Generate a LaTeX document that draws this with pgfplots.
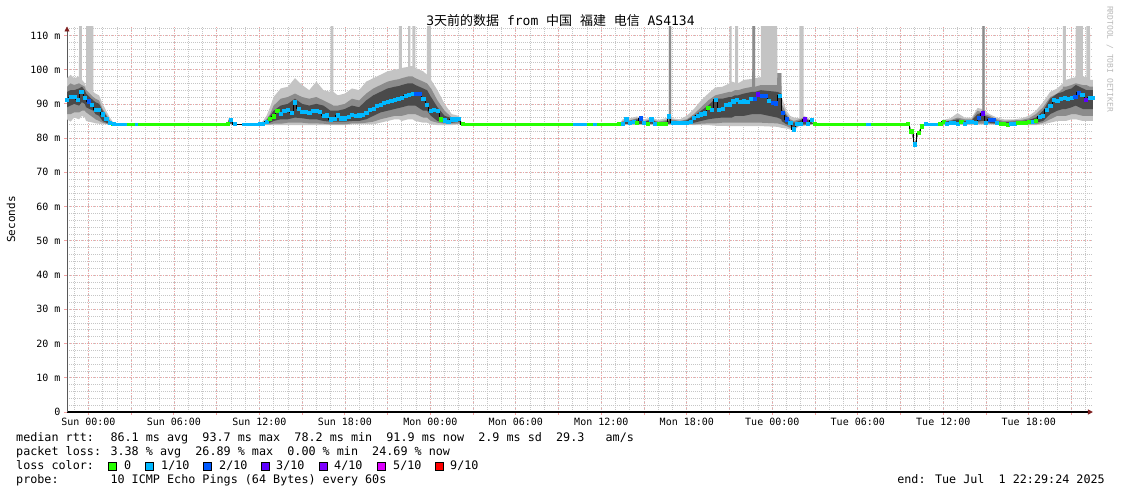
\documentclass[border=0pt]{standalone}
\usepackage{fontspec}
\usepackage{pgfplots}
\usepackage{pgfplotstable}
\pgfplotsset{compat=1.18}
\usepgfplotslibrary{fillbetween}
\usetikzlibrary{arrows.meta}
\newfontfamily\rrd{DejaVu Sans Mono}
\newfontfamily\cjk{Noto Sans CJK SC}
\definecolor{loss0}{HTML}{26FF00}
\definecolor{loss1}{HTML}{00B8FF}
\definecolor{loss2}{HTML}{0059FF}
\definecolor{loss3}{HTML}{5E00FF}
\definecolor{loss4}{HTML}{7E00FF}
\definecolor{loss5}{HTML}{DD00FF}
\definecolor{loss9}{HTML}{FF0000}
\definecolor{smokeL}{HTML}{C4C4C4}
\definecolor{smokeM}{HTML}{8C8C8C}
\definecolor{smokeD}{HTML}{4A4A4A}
\definecolor{gridmaj}{HTML}{F2A2A2}
\definecolor{gridmin}{HTML}{C6C6C6}
\definecolor{arrowred}{HTML}{7F1F1F}

% smoke bands: h, light lo/hi, mid lo/hi, dark lo/hi (ms); 125 = spike to top
\pgfplotstableread{
h lo1 hi1 lo2 hi2 lo3 hi3
-1.50 85.5 97.5 87.0 95.0 89.0 93.5
-1.25 84.8 98.5 87.0 96.0 89.5 94.0
-1.00 86.0 97.5 87.5 95.5 90.0 94.0
-0.66 85.5 98.0 87.5 96.0 89.5 94.5
-0.65 85.5 125 87.5 96.0 89.5 94.5
-0.46 86.5 125 88.0 95.5 90.5 95.0
-0.45 86.5 97.0 88.0 95.5 90.5 95.0
-0.25 86.0 96.0 88.0 95.0 90.0 94.0
-0.16 85.0 95.0 87.5 94.0 89.0 93.0
-0.15 85.0 125 87.5 94.0 89.0 93.0
0.34 84.5 125 86.0 92.0 88.0 91.0
0.35 84.5 93.5 86.0 92.0 88.0 91.0
0.50 84.3 93.0 85.5 91.5 87.0 90.5
0.75 84.2 92.5 85.0 91.0 86.5 90.0
1.00 84.0 90.0 84.5 88.5 85.0 88.0
1.25 84.0 88.0 84.2 87.0 84.5 86.5
1.50 84.0 86.0 84.1 85.2 84.2 84.8
1.75 84.1 84.6 84.1 84.3 84.1 84.2
2.00 84.1 84.1 84.1 84.1 84.1 84.1
9.80 84.1 84.1 84.1 84.1 84.1 84.1
9.85 84.0 85.8 84.1 85.5 84.2 85.3
10.10 84.0 85.8 84.1 85.5 84.2 85.3
10.15 84.1 84.1 84.1 84.1 84.1 84.1
12.00 84.1 84.1 84.1 84.1 84.1 84.1
12.25 84.0 85.0 84.1 84.6 84.1 84.4
12.50 83.8 86.5 84.0 85.5 84.2 85.0
12.75 83.8 89.0 84.0 87.0 84.5 86.5
13.00 83.8 92.0 84.2 89.5 85.0 88.0
13.50 83.8 94.5 84.2 91.5 85.5 89.5
14.00 83.8 95.0 84.5 92.0 85.5 90.0
14.50 83.8 97.5 84.5 93.0 86.0 91.5
15.00 83.8 95.5 84.5 92.0 85.8 90.0
15.50 83.8 94.0 84.3 91.5 85.5 89.5
16.00 83.8 96.5 84.3 92.0 85.5 90.0
16.50 83.8 94.0 84.2 91.0 85.0 89.5
16.99 83.8 93.5 84.0 90.0 84.8 88.0
17.00 83.8 125 84.0 90.0 84.8 88.0
17.19 83.8 125 84.0 89.5 84.8 88.0
17.20 83.8 93.5 84.0 89.5 84.8 88.0
17.50 83.8 92.5 84.0 89.5 84.8 88.0
18.00 83.8 93.0 84.0 90.0 84.8 88.5
18.50 84.0 94.5 84.3 91.5 85.0 89.5
19.00 84.0 94.0 84.3 91.0 85.0 89.0
19.50 84.0 96.5 84.5 93.0 85.5 91.0
20.00 84.0 97.5 84.8 94.5 86.5 92.5
20.50 84.5 98.5 85.5 95.5 87.5 93.5
21.00 85.0 99.5 86.0 96.5 88.0 94.5
21.50 85.5 100.0 86.5 97.0 88.5 95.0
21.79 85.5 100.2 86.5 97.2 88.8 95.2
21.80 85.5 125 86.5 97.2 88.8 95.2
21.99 85.0 125 86.5 97.5 89.0 95.5
22.00 85.0 100.5 86.5 97.5 89.0 95.5
22.44 85.5 100.8 87.0 98.0 89.5 96.0
22.45 85.5 125 87.0 98.0 89.5 96.0
22.59 85.5 125 87.0 98.0 89.5 96.0
22.60 85.5 101.0 87.0 98.0 89.5 96.0
22.74 85.5 101.0 87.0 98.0 89.5 96.0
22.75 85.5 125 87.0 98.0 89.5 96.0
22.94 85.0 125 87.0 97.5 89.5 95.5
22.95 85.0 100.5 87.0 97.5 89.5 95.5
23.50 84.5 99.5 86.0 96.5 88.0 94.5
23.76 84.5 98.5 86.0 96.0 88.0 94.0
23.77 84.5 125 86.0 96.0 88.0 94.0
24.04 84.0 125 85.0 94.5 86.5 92.0
24.05 84.0 97.0 85.0 94.5 86.5 92.0
24.50 83.8 94.0 84.5 91.0 85.0 89.0
25.00 83.8 90.0 84.2 88.0 84.5 86.5
25.50 83.8 87.0 84.2 86.0 84.5 85.8
26.00 84.0 86.5 84.2 86.0 84.8 85.8
26.25 84.1 84.1 84.1 84.1 84.1 84.1
37.25 84.1 84.1 84.1 84.1 84.1 84.1
37.50 83.9 85.5 84.0 85.0 84.1 84.6
38.00 83.9 85.8 84.0 85.2 84.2 85.0
38.50 83.9 86.3 84.0 85.8 84.2 85.5
39.00 83.9 85.5 84.0 85.0 84.1 84.8
39.50 83.9 86.0 84.0 85.5 84.2 85.3
40.00 83.9 85.3 84.0 84.8 84.1 84.5
40.50 83.9 85.8 84.0 85.2 84.1 84.8
40.74 83.9 86.0 84.0 85.5 84.2 85.0
40.75 83.9 125 84.0 125 84.2 86.4
40.89 83.9 125 84.0 125 84.2 86.4
40.90 83.9 85.8 84.0 85.5 84.1 85.0
41.50 83.9 85.5 84.0 85.0 84.1 84.8
42.00 83.9 86.5 84.0 85.5 84.2 85.2
42.50 83.8 88.5 84.0 87.0 84.5 86.5
43.00 83.8 91.0 84.2 89.0 85.0 88.0
43.50 83.8 93.0 84.3 91.0 85.5 89.5
44.00 83.6 94.8 84.3 92.5 85.8 91.5
44.50 83.6 95.0 84.5 93.0 86.0 91.5
44.99 83.5 96.0 84.5 93.5 86.0 92.0
45.00 83.5 125 84.5 93.5 86.0 92.0
45.14 83.5 125 84.5 93.5 86.0 92.0
45.15 83.5 96.5 84.5 93.5 86.0 92.0
45.39 83.5 96.2 84.5 94.0 86.5 92.5
45.40 83.5 125 84.5 94.0 86.5 92.5
45.59 83.5 125 84.5 94.0 86.5 92.5
45.60 83.5 96.0 84.5 94.0 86.5 92.5
46.00 83.5 97.0 84.5 94.5 86.5 93.0
46.59 83.5 97.3 84.5 95.0 87.0 93.5
46.60 83.5 125 84.5 125 87.0 93.5
46.79 83.5 125 84.5 125 87.0 93.5
46.80 83.5 97.5 84.5 95.0 87.0 93.5
47.19 83.5 97.8 84.5 95.5 87.0 94.0
47.20 83.5 125 84.5 95.5 87.0 94.0
48.34 83.3 125 84.3 95.5 86.0 93.5
48.35 83.3 99.0 84.3 99.0 86.0 93.5
48.64 83.0 99.0 84.0 99.0 85.5 93.0
48.65 83.0 92.0 84.0 90.0 85.0 88.5
49.00 82.8 88.0 83.5 87.0 84.0 86.5
49.25 82.5 86.5 83.0 85.5 83.8 85.0
49.50 82.3 86.0 82.5 85.0 83.0 84.5
49.89 83.5 85.8 83.8 85.5 84.0 85.0
49.90 83.5 125 83.8 85.5 84.0 85.0
50.19 83.5 125 83.8 86.0 84.0 85.7
50.20 83.5 86.5 83.8 86.0 84.0 85.7
50.50 83.8 86.0 84.0 85.5 84.0 85.3
50.90 84.1 84.5 84.1 84.3 84.1 84.2
51.00 84.1 84.1 84.1 84.1 84.1 84.1
57.60 84.1 84.1 84.1 84.1 84.1 84.1
57.75 81.5 82.5 81.8 82.2 81.9 82.1
58.00 77.8 78.6 78.0 78.4 78.1 78.3
58.25 81.2 81.8 81.3 81.7 81.4 81.6
58.50 83.3 83.8 83.4 83.7 83.5 83.6
58.75 84.1 84.1 84.1 84.1 84.1 84.1
59.80 84.1 84.1 84.1 84.1 84.1 84.1
60.00 83.9 85.3 84.0 85.0 84.1 84.8
60.50 83.9 85.8 84.0 85.2 84.2 85.0
61.00 83.9 87.3 84.0 86.0 84.2 85.5
61.50 83.9 86.0 84.0 85.5 84.2 85.0
62.00 83.9 86.0 84.0 85.5 84.2 85.2
62.40 83.9 88.8 84.2 88.0 84.8 87.0
62.74 83.9 88.5 84.2 87.5 85.0 87.5
62.75 83.9 125 84.2 125 85.0 88.0
62.89 83.9 125 84.2 125 85.0 88.0
62.90 83.9 88.0 84.2 87.0 84.8 86.5
63.25 83.9 87.0 84.2 86.5 84.5 86.0
63.75 83.9 86.0 84.0 85.5 84.2 85.0
64.25 83.9 85.5 84.0 85.0 84.1 84.6
65.00 83.9 85.5 84.0 85.2 84.1 84.8
65.50 83.9 85.8 84.0 85.3 84.2 85.0
66.00 83.8 86.5 84.0 85.8 84.2 85.3
66.50 83.8 88.0 84.0 87.0 84.5 86.0
67.00 84.0 90.5 84.5 89.0 85.0 88.0
67.50 84.5 93.5 85.5 92.0 87.0 91.5
68.00 85.0 94.5 86.5 93.0 88.0 93.0
68.39 85.0 96.0 86.5 94.5 88.5 93.5
68.40 85.0 125 86.5 95.0 88.5 93.5
68.59 85.0 125 86.5 95.0 88.5 94.0
68.60 85.0 97.0 86.5 95.0 88.5 94.0
69.00 85.5 97.5 87.0 95.5 89.0 94.5
69.29 85.5 97.8 87.0 96.0 89.5 95.5
69.30 85.5 125 87.0 96.0 89.5 95.5
69.79 85.0 125 86.5 95.5 88.5 94.5
69.80 85.0 98.0 86.5 95.5 88.5 94.5
70.04 85.0 97.8 86.5 95.5 88.5 94.0
70.05 85.0 125 86.5 95.5 88.5 94.0
70.29 85.0 125 86.5 95.0 88.5 94.0
70.30 85.0 97.0 86.5 95.0 88.5 94.0
70.50 85.0 97.0 86.5 95.0 88.5 94.0
}\smoke

% median rtt (ms) with loss class 0..4
\pgfplotstableread{
h m c
-1.50 91.3 1
-1.25 92.0 1
-1.00 92.0 1
-0.75 91.2 1
-0.50 93.6 1
-0.25 91.8 1
0.00 90.8 2
0.25 89.8 1
0.50 88.4 1
0.75 88.4 1
1.00 87.0 1
1.25 85.6 1
1.50 84.4 1
1.75 84.1 1
9.75 84.1 0
10.00 85.3 1
10.25 84.1 1
12.00 84.1 1
12.25 84.3 1
12.50 84.8 1
12.75 85.6 0
13.00 86.4 0
13.25 88.0 0
13.50 87.2 1
13.75 87.9 1
14.00 88.2 1
14.25 87.4 1
14.50 90.5 1
14.75 88.6 1
15.00 87.8 1
15.25 87.6 1
15.50 87.4 1
15.75 88.0 1
16.00 88.0 1
16.25 87.8 1
16.50 86.5 1
16.75 86.7 1
17.00 85.5 1
17.25 85.6 1
17.50 86.7 1
17.75 85.8 1
18.00 85.8 1
18.25 86.3 1
18.50 86.9 1
18.75 86.6 1
19.00 86.7 1
19.25 86.9 1
19.50 87.5 1
19.75 88.3 1
20.00 88.7 1
20.25 89.4 1
20.50 89.8 1
20.75 90.3 1
21.00 90.6 1
21.25 90.9 1
21.50 91.3 1
21.75 91.5 1
22.00 91.7 1
22.25 92.4 1
22.50 92.7 1
22.75 92.9 1
23.00 93.0 2
23.25 92.9 2
23.50 91.6 1
23.75 89.7 1
24.00 88.0 1
24.25 88.3 1
24.50 88.1 1
24.75 85.5 0
25.00 85.2 1
25.25 84.8 1
25.50 85.5 1
25.75 85.5 1
26.00 85.6 1
26.25 84.1 0
37.25 84.1 0
37.50 84.3 1
37.75 85.5 1
38.00 84.5 1
38.25 84.7 1
38.50 84.5 0
38.75 85.8 2
39.00 84.6 1
39.25 84.1 0
39.50 85.5 1
39.75 84.3 1
40.00 84.2 0
40.25 84.2 0
40.50 84.2 0
40.75 86.4 1
41.00 84.6 1
41.25 84.5 1
41.50 84.5 1
41.75 84.4 1
42.00 84.5 1
42.25 84.8 1
42.50 86.0 1
42.75 86.5 1
43.00 87.0 1
43.25 87.3 1
43.50 88.9 0
43.75 88.4 1
44.00 91.3 1
44.25 88.4 1
44.50 88.5 1
44.75 89.8 1
45.00 89.9 1
45.25 90.8 1
45.50 91.2 1
45.75 90.7 1
46.00 90.8 1
46.25 90.6 1
46.50 91.5 1
46.75 91.4 2
47.00 92.8 3
47.25 92.5 2
47.50 92.3 2
47.75 91.0 1
48.00 90.3 2
48.25 90.2 2
48.50 92.5 1
48.75 87.4 2
49.00 85.5 2
49.25 84.5 1
49.50 82.6 1
49.75 84.2 1
50.00 84.2 1
50.25 85.5 3
50.50 84.1 1
50.75 85.3 1
51.00 84.1 0
57.50 84.1 0
57.75 82.0 0
58.00 78.2 1
58.25 81.5 0
58.50 83.5 0
58.75 84.1 1
59.75 84.1 0
60.00 84.8 0
60.25 84.1 1
60.50 84.5 1
60.75 84.5 1
61.00 84.1 1
61.25 84.8 0
61.50 84.3 1
61.75 84.8 1
62.00 84.8 1
62.25 84.5 1
62.50 85.9 2
62.75 87.3 3
63.00 84.5 1
63.25 85.4 2
63.50 85.4 2
63.75 84.6 1
64.00 84.2 0
64.25 84.2 0
64.50 84.0 0
64.75 84.3 1
65.00 84.2 1
65.25 84.4 0
65.50 84.5 0
65.75 84.6 0
66.00 84.8 0
66.25 84.9 1
66.50 85.0 0
66.75 86.2 1
67.00 86.6 1
67.25 88.4 1
67.50 89.5 1
67.75 91.3 1
68.00 91.0 1
68.25 91.5 1
68.50 91.8 1
68.75 91.6 1
69.00 91.9 1
69.25 92.2 2
69.50 93.3 2
69.75 92.6 1
70.00 91.3 3
70.25 91.8 1
70.50 91.8 1
}\med

\begin{document}
\begin{tikzpicture}
\begin{axis}[
    at={(67pt,82pt)}, anchor=south west,
    scale only axis, width=1026pt, height=385.5pt,
    xmin=-1.5, xmax=70.5, ymin=0, ymax=112.6,
    axis x line=bottom, axis y line=left,
    x axis line style={black, line width=1.3pt, -{Triangle[length=5pt,width=5pt,color=arrowred]}},
    y axis line style={gray!70!black, line width=0.8pt, -{Triangle[length=5pt,width=5pt,color=arrowred]}},
    xtick={0,3,...,69},
    xticklabels={Sun 00:00,,Sun 06:00,,Sun 12:00,,Sun 18:00,,Mon 00:00,,Mon 06:00,,Mon 12:00,,Mon 18:00,,Tue 00:00,,Tue 06:00,,Tue 12:00,,Tue 18:00,{}},
    minor xtick={-1,0,...,70},
    ytick={0,10,...,110},
    yticklabels={0,10 m,20 m,30 m,40 m,50 m,60 m,70 m,80 m,90 m,100 m,110 m},
    minor ytick={0,2,...,112},
    grid=both,
    major grid style={gridmaj, line width=0.7pt, dash pattern=on 1pt off 2pt},
    minor grid style={gridmin, line width=0.7pt, dash pattern=on 1pt off 1pt},
    tick align=outside, major tick length=3pt, minor tick length=0pt,
    major tick style={gridmaj, line width=0.8pt},
    ticklabel style={font=\rrd\fontsize{10}{12}\selectfont},
]
% smoke
\addplot[name path=u1, draw=none] table[x=h,y=hi1]{\smoke};
\addplot[name path=l1, draw=none] table[x=h,y=lo1]{\smoke};
\addplot[fill=smokeL, draw=none] fill between[of=u1 and l1];
\addplot[name path=u2, draw=none] table[x=h,y=hi2]{\smoke};
\addplot[name path=l2, draw=none] table[x=h,y=lo2]{\smoke};
\addplot[fill=smokeM, draw=none] fill between[of=u2 and l2];
\addplot[name path=u3, draw=none] table[x=h,y=hi3]{\smoke};
\addplot[name path=l3, draw=none] table[x=h,y=lo3]{\smoke};
\addplot[fill=smokeD, draw=none] fill between[of=u3 and l3];
% median line, steps centred on the 15 min samples
\addplot[black, line width=0.9pt, const plot] table[x expr=\thisrow{h}-0.125, y=m]{\med};
% flat stretches
\addplot[loss0, line width=3pt, unbounded coords=jump] coordinates {
    (1.6,84.1) (9.87,84.1) (9.9,nan)
    (26.2,84.1) (37.4,84.1) (37.5,nan)
    (51.0,84.1) (57.6,84.1) (57.7,nan)
    (58.65,84.1) (60.0,84.1)};
\addplot[loss1, line width=3pt, unbounded coords=jump] coordinates {
    (1.8,84.1) (2.7,84.1) (2.8,nan)
    (3.3,84.1) (3.5,84.1) (3.6,nan)
    (10.8,84.1) (12.0,84.1) (12.1,nan)
    (34.0,84.1) (35.0,84.1) (35.1,nan)
    (35.4,84.1) (35.7,84.1) (35.8,nan)
    (54.6,84.1) (54.9,84.1) (55.0,nan)
    (58.7,84.1) (59.7,84.1)};
% median colour by loss
\addplot[scatter, only marks, point meta=explicit symbolic, mark size=1.6pt,
    scatter/classes={
        0={mark=square*, draw=loss0, fill=loss0},
        1={mark=square*, draw=loss1, fill=loss1},
        2={mark=square*, draw=loss2, fill=loss2},
        3={mark=square*, draw=loss3, fill=loss3},
        4={mark=square*, draw=loss4, fill=loss4}}]
    table[x=h,y=m,meta=c]{\med};
\end{axis}

\begin{scope}[x=1pt,y=1pt]
\node[anchor=base, font=\rrd\fontsize{13}{15}\selectfont] at (560.5,468)
    {3{\cjk 天前的数据} from {\cjk 中国} {\cjk 福建} {\cjk 电信} AS4134};
\node[rotate=90, font=\rrd\fontsize{11}{13}\selectfont] at (11,274.5) {Seconds};
\node[rotate=-90, font=\rrd\fontsize{8}{10}\selectfont, text=gray!55] at (1110,435) {RRDTOOL / TOBI OETIKER};

\begin{scope}[every node/.style={anchor=base west, inner sep=0pt, font=\rrd\fontsize{11.75}{14}\selectfont}]
\node at (16,52) {median rtt:~ 86.1 ms avg~ 93.7 ms max~ 78.2 ms min~ 91.9 ms now~ 2.9 ms sd~ 29.3~~ am/s};
\node at (16,38) {packet loss: 3.38 \% avg~ 26.89 \% max~ 0.00 \% min~ 24.69 \% now};
\node at (16,24) {loss color:};
\node at (16,10) {probe:~~~~~~ 10 ICMP Echo Pings (64 Bytes) every 60s};
\node[anchor=base east] at (1105,10) {end: Tue Jul~ 1 22:29:24 2025};
\foreach \sx/\tx/\col/\lab in {108.5/124/loss0/0, 145.5/161/loss1/1\slash 10, 203.5/219/loss2/2\slash 10,
    261/276/loss3/3\slash 10, 319/334/loss4/4\slash 10, 377/393/loss5/5\slash 10, 435/450/loss9/9\slash 10} {
    \draw[fill=\col, draw=black, line width=0.8pt] (\sx,24) rectangle ++(8,8);
    \node at (\tx,24) {\lab};
}
\end{scope}
\pgfresetboundingbox
\useasboundingbox (0,0) rectangle (1121,494);
\end{scope}
\end{tikzpicture}
\end{document}
